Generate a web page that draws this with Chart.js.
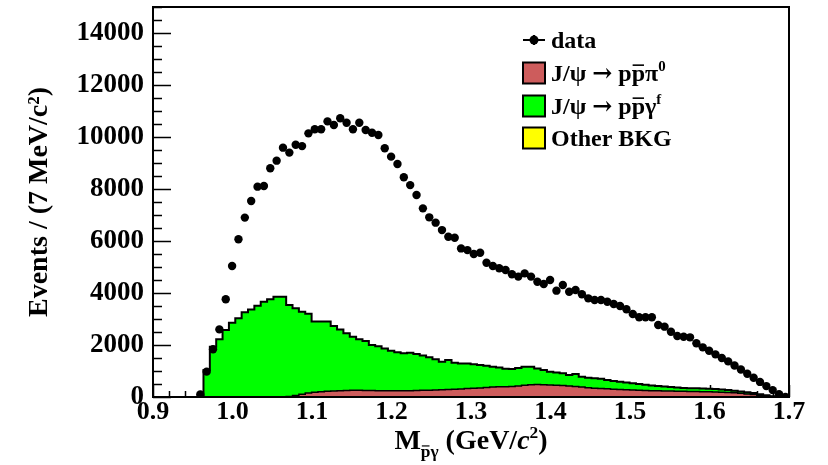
<!DOCTYPE html>
<html>
<head>
<meta charset="utf-8">
<script src="https://cdn.jsdelivr.net/npm/chart.js@4.4.1/dist/chart.umd.min.js"></script>
<style>
  html, body { margin: 0; background: #fff; }
  #wrap { width: 828px; height: 465px; }
</style>
</head>
<body>
<div id="wrap"><canvas id="myChart"></canvas></div>
<script>
// histogram binning (GeV/c^2)
const binStart = 0.9555;
const binWidth = 0.008;

// data points, events per bin
const dataCounts = [
  100, 975, 1835, 2600, 3760, 5040, 6065, 6900, 7540, 8090,
  8115, 8800, 9090, 9590, 9400, 9700, 9650, 10140, 10300, 10300,
  10600, 10460, 10720, 10550, 10300, 10550, 10270, 10165, 10075, 9565,
  9245, 8960, 8450, 8150, 7770, 7255, 6910, 6705, 6420, 6165,
  6125, 5715, 5650, 5500, 5550, 5165, 5040, 4950, 4885, 4720,
  4630, 4755, 4630, 4435, 4345, 4500, 4090, 4310, 4050, 4115,
  3950, 3795, 3730, 3730, 3665, 3575, 3500, 3375, 3190, 3065,
  3065, 3065, 2770, 2705, 2510, 2345, 2320, 2295, 2065, 1910,
  1780, 1640, 1500, 1370, 1210, 1055, 895, 740, 580, 420,
  265, 105, 0
];

// top of the stacked MC (J/psi -> p pbar gamma^f on top of the backgrounds)
const stackTotal = [
  0, 1040, 1935, 2220, 2575, 2860, 3025, 3255, 3370, 3510,
  3665, 3755, 3860, 3860, 3540, 3410, 3280, 3200, 2900, 2900,
  2900, 2730, 2600, 2450, 2320, 2220, 2150, 2000, 1950, 1870,
  1780, 1720, 1680, 1700, 1650, 1600, 1525, 1450, 1360, 1420,
  1320, 1290, 1290, 1260, 1230, 1200, 1160, 1130, 1090, 1075,
  1120, 1165, 1165, 1100, 1040, 975, 940, 910, 845, 880,
  780, 740, 720, 700, 655, 620, 590, 560, 530, 500,
  470, 440, 425, 400, 380, 370, 350, 340, 335, 330,
  320, 310, 290, 270, 240, 210, 180, 150, 110, 70,
  30, 0, 0
];

// J/psi -> p pbar pi0 background
const pi0Bkg = [
  0, 0, 0, 0, 0, 0, 0, 0, 0, 0,
  0, 0, 0, 0, 20, 60, 110, 150, 180, 200,
  220, 230, 240, 250, 255, 255, 250, 250, 245, 245,
  240, 240, 240, 245, 250, 255, 260, 270, 280, 290,
  300, 310, 330, 340, 350, 365, 380, 390, 395, 400,
  420, 450, 470, 480, 470, 460, 450, 440, 420, 400,
  380, 360, 340, 330, 320, 300, 290, 280, 270, 260,
  250, 245, 240, 235, 230, 225, 220, 215, 210, 205,
  200, 195, 185, 175, 160, 140, 120, 95, 70, 45,
  20, 0, 0
];

const xTicks = [0.9, 1.0, 1.1, 1.2, 1.3, 1.4, 1.5, 1.6, 1.7];
const yTicks = [0, 2000, 4000, 6000, 8000, 10000, 12000, 14000];
const xMinorStep = 0.02;
const yMinorStep = 500;

const RED = '#cd5c5c';
const GREEN = '#00ff00';
const YELLOW = '#ffff00';
const FONT = '"Liberation Serif", "Times New Roman", serif';

// step histogram: lower edges + closing upper edge
function histPoints(vals) {
  const pts = vals.map((v, i) => ({ x: binStart + i * binWidth, y: v }));
  pts.push({ x: binStart + vals.length * binWidth, y: vals[vals.length - 1] });
  return pts;
}
const dataPoints = dataCounts.map((v, i) => ({ x: binStart + (i + 0.5) * binWidth, y: v }));

function drawRich(ctx, x, baseY, parts, size) {
  let cx = x;
  for (const p of parts) {
    const small = p.sup || p.sub;
    const s = small ? size * 0.62 : size;
    ctx.font = (p.italic ? 'italic ' : '') + 'bold ' + s + 'px ' + (p.sym ? '"DejaVu Serif", serif' : FONT);
    const dy = p.sup ? -size * 0.4 : p.sub ? size * 0.3 : 0;
    const w = ctx.measureText(p.t).width;
    ctx.fillText(p.t, cx, baseY + dy);
    if (p.bar) {
      ctx.beginPath();
      ctx.lineWidth = small ? 1.2 : 1.6;
      ctx.moveTo(cx + 1, baseY + dy - s * 0.66);
      ctx.lineTo(cx + w - 1, baseY + dy - s * 0.66);
      ctx.stroke();
    }
    cx += w;
  }
  return cx - x;
}

const rootStyle = {
  id: 'rootStyle',
  beforeDatasetsDraw(chart) {
    const { ctx, chartArea: a, scales: { x, y } } = chart;
    ctx.save();
    ctx.strokeStyle = '#000';
    ctx.lineWidth = 1.5;
    ctx.beginPath();
    for (let v = 0; v <= y.max; v += yMinorStep) {
      const py = Math.round(y.getPixelForValue(v)) + 0.5;
      const len = v % 2000 === 0 ? 18 : 9;
      ctx.moveTo(a.left, py);
      ctx.lineTo(a.left + len, py);
    }
    const n = Math.round((x.max - x.min) / xMinorStep);
    for (let i = 0; i <= n; i++) {
      const px = Math.round(x.getPixelForValue(x.min + i * xMinorStep)) + 0.5;
      const len = i % 5 === 0 ? 12 : 6;
      ctx.moveTo(px, a.bottom);
      ctx.lineTo(px, a.bottom - len);
    }
    ctx.stroke();
    ctx.restore();
  },
  afterDatasetsDraw(chart) {
    const { ctx, chartArea: a } = chart;
    ctx.save();
    ctx.strokeStyle = '#000';
    ctx.lineWidth = 2;
    ctx.strokeRect(a.left, a.top, a.right - a.left, a.bottom - a.top);
    ctx.restore();
  },
  afterDraw(chart) {
    const { ctx, chartArea: a } = chart;
    ctx.save();
    ctx.fillStyle = '#000';
    ctx.strokeStyle = '#000';
    ctx.textBaseline = 'alphabetic';

    // x-axis title
    const xParts = [
      { t: 'M' }, { t: 'p', sub: true, bar: true }, { t: 'γ', sub: true },
      { t: ' (GeV/' }, { t: 'c', italic: true }, { t: '2', sup: true }, { t: ')' }
    ];
    ctx.globalAlpha = 0;
    const w = drawRich(ctx, 0, -100, xParts, 28);
    ctx.globalAlpha = 1;
    drawRich(ctx, (a.left + a.right) / 2 - w / 2, 449, xParts, 28);

    // legend
    const bx = a.left + 370, bw = 22, bh = 21, tx = bx + 28, fs = 24;
    const rows = [a.top + 33, a.top + 66, a.top + 99, a.top + 131];
    ctx.lineWidth = 2;
    ctx.beginPath();
    ctx.moveTo(bx, rows[0]); ctx.lineTo(bx + bw, rows[0]);
    ctx.moveTo(bx + bw / 2, rows[0] - 5); ctx.lineTo(bx + bw / 2, rows[0] + 5);
    ctx.stroke();
    ctx.beginPath();
    ctx.arc(bx + bw / 2, rows[0], 4.5, 0, Math.PI * 2);
    ctx.fill();
    drawRich(ctx, tx, rows[0] + 8, [{ t: 'data' }], fs);

    const boxes = [
      [RED, [{ t: 'J/ψ ' }, { t: '→', sym: true }, { t: ' p' }, { t: 'p', bar: true }, { t: 'π' }, { t: '0', sup: true }]],
      [GREEN, [{ t: 'J/ψ ' }, { t: '→', sym: true }, { t: ' p' }, { t: 'p', bar: true }, { t: 'γ' }, { t: 'f', sup: true }]],
      [YELLOW, [{ t: 'Other BKG' }]]
    ];
    boxes.forEach(([col, parts], k) => {
      const yc = rows[k + 1];
      ctx.fillStyle = col;
      ctx.fillRect(bx, yc - bh / 2, bw, bh);
      ctx.lineWidth = 2;
      ctx.strokeRect(bx, yc - bh / 2, bw, bh);
      ctx.fillStyle = '#000';
      drawRich(ctx, tx, yc + 8, parts, fs);
    });
    ctx.restore();
  }
};

const ctx = document.getElementById('myChart');
new Chart(ctx, {
  type: 'line',
  data: {
    datasets: [
      {
        label: 'data',
        data: dataPoints,
        showLine: false,
        pointRadius: 4.2,
        pointBorderWidth: 0,
        pointBackgroundColor: '#000',
        borderColor: '#000'
      },
      {
        label: 'J/ψ → pp̄π0',
        data: histPoints(pi0Bkg),
        stepped: 'before',
        pointRadius: 0,
        borderColor: '#000',
        borderWidth: 1.5,
        backgroundColor: RED,
        fill: 'origin'
      },
      {
        label: 'J/ψ → pp̄γf',
        data: histPoints(stackTotal),
        stepped: 'before',
        pointRadius: 0,
        borderColor: '#000',
        borderWidth: 2,
        backgroundColor: GREEN,
        fill: '-1'
      }
    ]
  },
  options: {
    responsive: true,
    maintainAspectRatio: false,
    animation: false,
    events: [],
    layout: { padding: { top: 7, right: 39, left: 0, bottom: 0 } },
    plugins: {
      legend: { display: false },
      tooltip: { enabled: false }
    },
    scales: {
      x: {
        type: 'linear',
        min: 0.9,
        max: 1.7,
        grid: { display: false, drawTicks: false },
        border: { display: false },
        afterBuildTicks: axis => { axis.ticks = xTicks.map(v => ({ value: v })); },
        afterFit: axis => { axis.height = 68; axis.paddingLeft = 0; axis.paddingRight = 0; },
        ticks: {
          color: '#000',
          padding: 2,
          maxRotation: 0,
          autoSkip: false,
          font: { family: FONT, size: 26, weight: 'bold', lineHeight: 1.0 },
          callback: v => Number(v).toFixed(1)
        }
      },
      y: {
        min: 0,
        max: 15000,
        grid: { display: false, drawTicks: false },
        border: { display: false },
        afterBuildTicks: axis => { axis.ticks = yTicks.map(v => ({ value: v })); },
        afterFit: axis => { axis.width = 153; axis.paddingTop = 0; axis.paddingBottom = 0; },
        ticks: {
          color: '#000',
          padding: 9,
          autoSkip: false,
          font: { family: FONT, size: 27, weight: 'bold' },
          callback: v => String(v)
        },
        title: {
          display: true,
          text: 'Events / (7 MeV/c²)',
          color: '#000',
          padding: { top: 23, bottom: 0 },
          font: { family: FONT, size: 28, weight: 'bold' }
        }
      }
    }
  },
  plugins: [rootStyle]
});
</script>
</body>
</html>
